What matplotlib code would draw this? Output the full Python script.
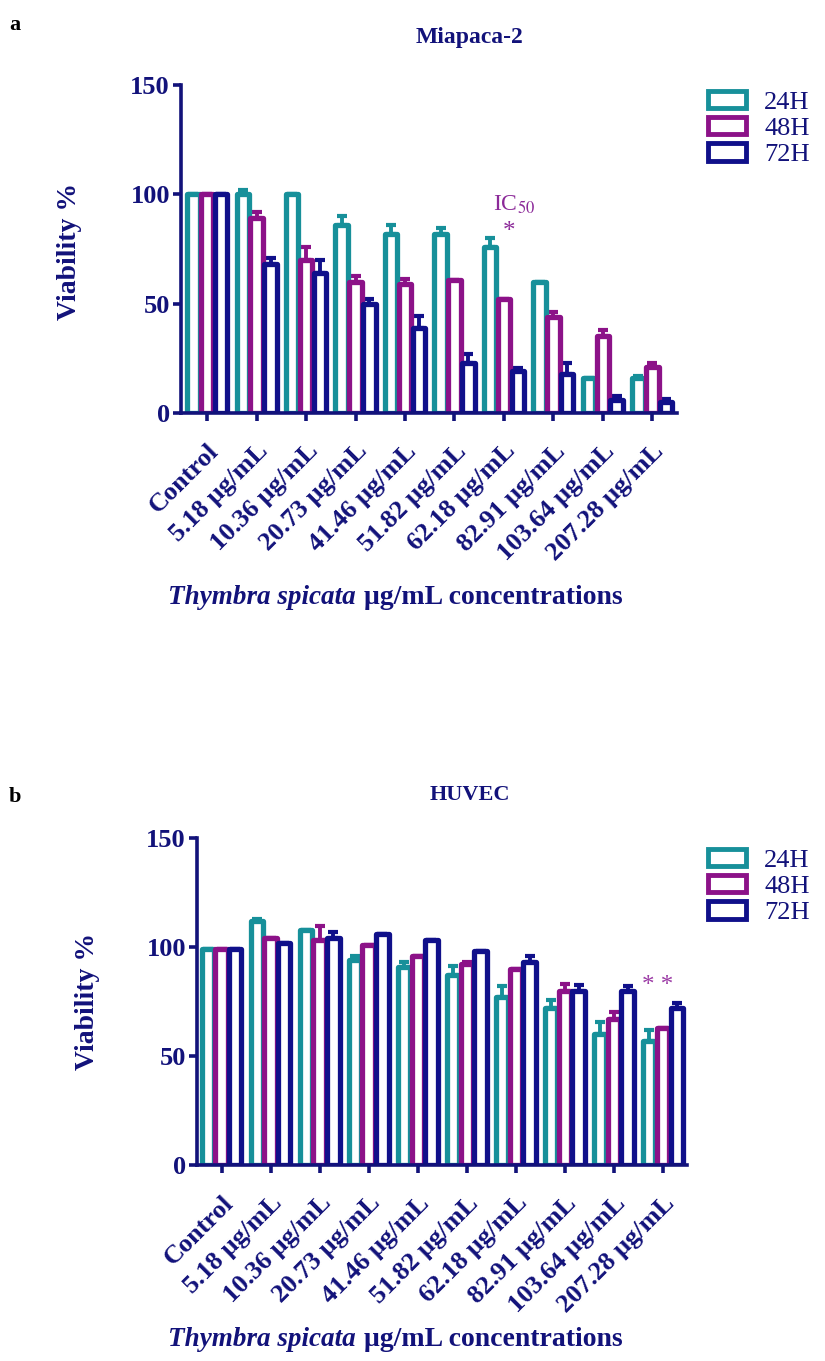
import numpy as np
import matplotlib
matplotlib.use("Agg")
import matplotlib.pyplot as plt
from matplotlib.patches import Patch

plt.rcParams["mathtext.fontset"] = "stix"

# data
concentrations = ["Control", "5.18 μg/mL", "10.36 μg/mL", "20.73 μg/mL", "41.46 μg/mL",
                  "51.82 μg/mL", "62.18 μg/mL", "82.91 μg/mL", "103.64 μg/mL", "207.28 μg/mL"]
series = ["24H", "48H", "72H"]

mia_24 = [100, 100, 100, 86, 82, 82, 76, 60, 16, 16]
mia_48 = [100, 89, 70, 60, 59, 61, 52, 44, 35, 21]
mia_72 = [100, 68, 64, 50, 39, 23, 19, 18, 6, 5]
mia_24_err = [0, 2, 0, 4, 4, 2.5, 4, 0, 0, 1]
mia_48_err = [0, 3, 6, 2.5, 2.5, 0, 0, 2, 3, 2]
mia_72_err = [0, 3, 6, 2, 5.5, 4, 1.5, 5, 2, 1.5]

huv_24 = [99, 112, 108, 94, 91, 87, 77, 72, 60, 57]
huv_48 = [99, 104, 103, 101, 96, 92, 90, 80, 67, 63]
huv_72 = [99, 102, 104, 106, 103, 98, 93, 80, 80, 72]
huv_24_err = [0, 1, 0, 2, 2, 4.5, 5, 3.5, 5.5, 5]
huv_48_err = [0, 0, 6.5, 0, 0, 1, 0, 3, 3, 0]
huv_72_err = [0, 0, 3, 0, 0, 0, 3, 2.5, 2, 2.5]

colors = ["#17909a", "#8c1288", "#10108a"]
navy = "#12127a"
purple = "#8c2a99"
serif = "Liberation Serif"

fig = plt.figure(figsize=(8.25, 13.61), dpi=100)
W, H = 825, 1361


def px(x, y):
    return x / W, 1 - y / H


def panel(rect, means, errs, xlim):
    ax = fig.add_axes(rect)
    x = np.arange(len(concentrations))
    w = 0.28
    for i, (m, e) in enumerate(zip(means, errs)):
        xi = x + (i - 1) * w
        ax.bar(xi, m, width=w * 0.9, facecolor="white", edgecolor=colors[i],
               linewidth=3.8, joinstyle="round", zorder=2)
        ax.errorbar(xi, m, yerr=[np.zeros(len(m)), e], fmt="none", ecolor=colors[i],
                    elinewidth=2.8, capsize=3.5, capthick=3, zorder=1)
    ax.set_xlim(*xlim)
    ax.set_ylim(0, 150)
    ax.set_yticks([0, 50, 100, 150])
    ax.set_xticks(x)
    ax.set_xticklabels(concentrations, rotation=45, ha="right", rotation_mode="anchor")
    for s in ["top", "right"]:
        ax.spines[s].set_visible(False)
    for s in ["left", "bottom"]:
        ax.spines[s].set_linewidth(2.6)
        ax.spines[s].set_color(navy)
    ax.tick_params(axis="both", colors=navy, width=2.6, length=6)
    ax.tick_params(axis="x", pad=13)
    ax.tick_params(axis="y", pad=2)
    for lab in ax.get_xticklabels() + ax.get_yticklabels():
        lab.set_fontfamily(serif)
        lab.set_fontweight("bold")
        lab.set_color(navy)
    for lab in ax.get_xticklabels():
        lab.set_fontsize(19)
    for lab in ax.get_yticklabels():
        lab.set_fontsize(19)
    return ax


ax1 = panel([181 / W, 1 - 413 / H, 496 / W, 328 / H],
            [mia_24, mia_48, mia_72], [mia_24_err, mia_48_err, mia_72_err], (-0.53, 9.5))
ax2 = panel([197 / W, 1 - 1165 / H, 490 / W, 327 / H],
            [huv_24, huv_48, huv_72], [huv_24_err, huv_48_err, huv_72_err], (-0.5, 9.49))

# panel letters and titles
fig.text(*px(15, 25), "a", fontfamily=serif, fontweight="bold", fontsize=16, ha="center", va="center")
fig.text(*px(15, 797), "b", fontfamily=serif, fontweight="bold", fontsize=16, ha="center", va="center")
fig.text(*px(469, 38), "Miapaca-2", fontfamily=serif, fontweight="bold", fontsize=17,
         color=navy, ha="center", va="center")
fig.text(*px(470, 795), "HUVEC", fontfamily=serif, fontweight="bold", fontsize=16,
         color=navy, ha="center", va="center")

# y labels
for (xx, yy) in [(70, 251), (88, 1001)]:
    fig.text(*px(xx, yy), "Viability %", fontfamily=serif, fontweight="bold", fontsize=20,
             color=navy, rotation=90, ha="center", va="center")

# x labels (italic species name + bold rest)
fig.canvas.draw()
rend = fig.canvas.get_renderer()
for yy in [598, 1340]:
    t1 = fig.text(*px(168, yy), "Thymbra spicata", fontfamily=serif, fontweight="bold",
                  fontstyle="italic", fontsize=19.5, color=navy, ha="left", va="center")
    bb = t1.get_window_extent(rend)
    fig.text(bb.x1 / W + 8 / W, 1 - yy / H, "μg/mL concentrations", fontfamily=serif,
             fontweight="bold", fontsize=20, color=navy, ha="left", va="center")

# annotations
ax1.text(6.2, 95, "IC$_{50}$", fontfamily=serif, fontsize=17, color=purple, ha="center", va="center")
ax1.text(6.1, 83, "*", fontfamily=serif, fontsize=18, color=purple, ha="center", va="center")
ax2.text(8.9, 82, "* *", fontfamily=serif, fontsize=18, color="#9b3aa5", ha="center", va="center")

# legends
handles = [Patch(facecolor="white", edgecolor=c, linewidth=3.5, label=s) for c, s in zip(colors, series)]
for ax, (lx, ly) in [(ax1, (697, 80)), (ax2, (697, 838))]:
    leg = fig.legend(handles=handles, loc="upper left", bbox_to_anchor=px(lx, ly),
                     frameon=False, handlelength=1.45, handleheight=0.65, labelspacing=0.12,
                     handletextpad=0.7, borderaxespad=0,
                     prop={"family": serif, "size": 19})
    for t in leg.get_texts():
        t.set_color(navy)

fig.savefig("out.png", dpi=100)
